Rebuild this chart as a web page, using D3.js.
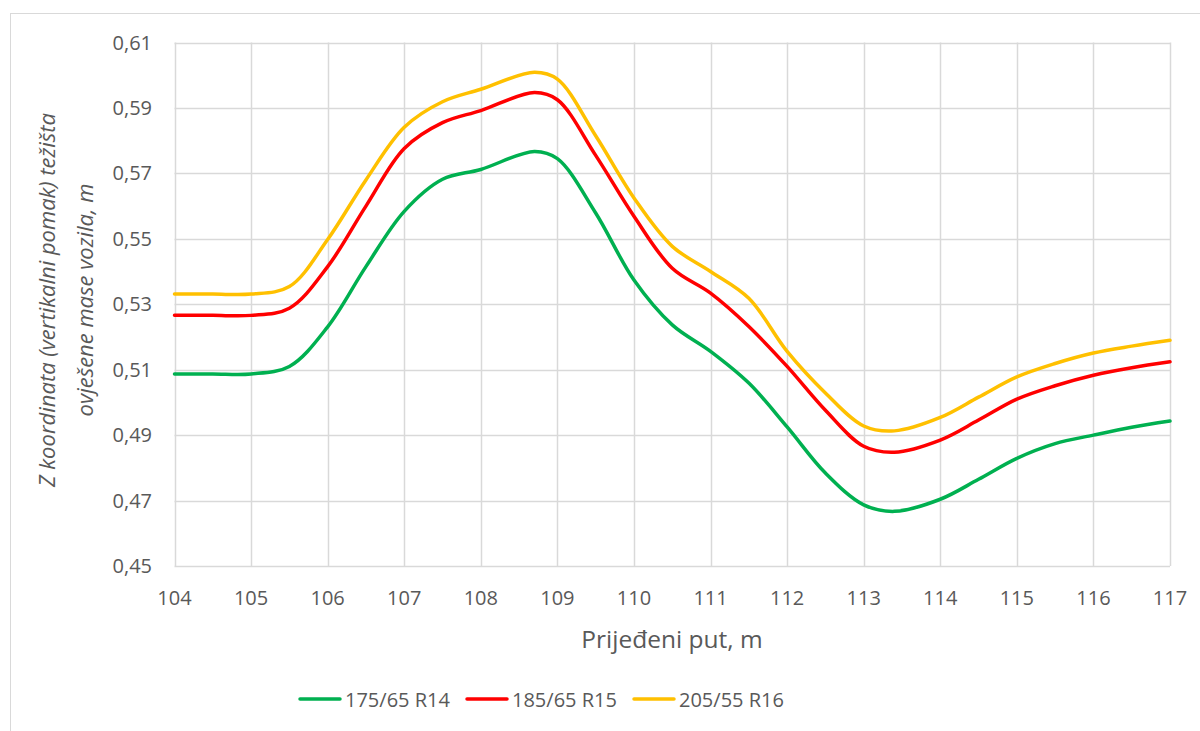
<!DOCTYPE html>
<html>
<head>
<meta charset="utf-8">
<script src="https://cdn.jsdelivr.net/npm/d3@7"></script>
<style>
  body { margin: 0; background: #fff; }
  svg text { font-family: "Open Sans", "Noto Sans", sans-serif; fill: #595959; }
</style>
</head>
<body>
<svg id="chart" width="1200" height="731"></svg>
<script>
// x positions (prijeđeni put, m)
var putX = [104, 104.5, 105, 105.5, 106, 106.5, 107, 107.5, 108, 108.7, 109, 109.5, 110, 110.5,
            111, 111.5, 112, 112.5, 113, 113.4, 114, 114.5, 115, 115.5, 116, 116.5, 117];

var r14 = [0.5087, 0.5087, 0.5087, 0.5110, 0.5231, 0.5415, 0.5584, 0.5682, 0.5712, 0.5767, 0.5745, 0.5579, 0.5374, 0.5237,
           0.5156, 0.5059, 0.4925, 0.4784, 0.4687, 0.4667, 0.4704, 0.4765, 0.4829, 0.4874, 0.4900, 0.4924, 0.4943];
var r15 = [0.5266, 0.5266, 0.5266, 0.5288, 0.5415, 0.5600, 0.5776, 0.5855, 0.5892, 0.5947, 0.5925, 0.5755, 0.5569, 0.5410,
           0.5334, 0.5232, 0.5110, 0.4976, 0.4866, 0.4848, 0.4885, 0.4946, 0.5010, 0.5051, 0.5083, 0.5106, 0.5124];
var r16 = [0.5331, 0.5331, 0.5331, 0.5354, 0.5498, 0.5680, 0.5841, 0.5919, 0.5957, 0.6009, 0.5988, 0.5815, 0.5625, 0.5477,
           0.5400, 0.5318, 0.5156, 0.5029, 0.4928, 0.4913, 0.4954, 0.5016, 0.5078, 0.5119, 0.5151, 0.5172, 0.5190];

var seriesNames = ["175/65 R14", "185/65 R15", "205/55 R16"];
var seriesColors = ["#00B050", "#FF0000", "#FFC000"];
var xTicks = [104, 105, 106, 107, 108, 109, 110, 111, 112, 113, 114, 115, 116, 117];
var yTicks = [0.45, 0.47, 0.49, 0.51, 0.53, 0.55, 0.57, 0.59, 0.61];

var svg = d3.select("#chart");

// outer chart border
svg.append("rect")
    .attr("x", 10.5).attr("y", 13.5)
    .attr("width", 1200).attr("height", 740)
    .attr("fill", "none").attr("stroke", "#D9D9D9");

var x = d3.scaleLinear().domain([104, 117]).range([174.5, 1170]);
var y = d3.scaleLinear().domain([0.45, 0.61]).range([566, 42.5]);

var loc = d3.formatLocale({ decimal: ",", thousands: ".", grouping: [3], currency: ["", ""] });
var fmt = loc.format(".2f");

// gridlines
svg.append("g").selectAll("line.h")
    .data(yTicks).enter().append("line")
    .attr("x1", x(104)).attr("x2", x(117))
    .attr("y1", function (d) { return Math.round(y(d)) + 0.5; })
    .attr("y2", function (d) { return Math.round(y(d)) + 0.5; })
    .attr("stroke", "#D9D9D9").attr("stroke-width", 1.5);

svg.append("g").selectAll("line.v")
    .data(xTicks).enter().append("line")
    .attr("y1", y(0.45)).attr("y2", y(0.61))
    .attr("x1", function (d) { return Math.round(x(d)) + 0.5; })
    .attr("x2", function (d) { return Math.round(x(d)) + 0.5; })
    .attr("stroke", "#D9D9D9").attr("stroke-width", 1.5);

// y tick labels
svg.append("g").selectAll("text")
    .data(yTicks).enter().append("text")
    .attr("x", 152)
    .attr("y", function (d) { return y(d) + 7; })
    .attr("text-anchor", "end")
    .style("font-size", "20px")
    .text(function (d) { return fmt(d); });

// x tick labels
svg.append("g").selectAll("text")
    .data(xTicks).enter().append("text")
    .attr("x", function (d) { return x(d); })
    .attr("y", 605)
    .attr("text-anchor", "middle")
    .style("font-size", "20px")
    .text(function (d) { return d; });

// axis titles
svg.append("text")
    .attr("x", 672).attr("y", 648)
    .attr("text-anchor", "middle")
    .style("font-size", "24.5px")
    .text("Prijeđeni put, m");

var yt = svg.append("text")
    .attr("transform", "translate(0,300) rotate(-90)")
    .attr("text-anchor", "middle")
    .style("font-size", "22px")
    .style("font-style", "italic");
yt.append("tspan").attr("x", 0).attr("y", 55).text("Z koordinata (vertikalni pomak) težišta");
yt.append("tspan").attr("x", 0).attr("y", 93).text("ovješene mase vozila, m");

// series
var line = d3.line()
    .x(function (d) { return x(d[0]); })
    .y(function (d) { return y(d[1]); })
    .curve(d3.curveCatmullRom.alpha(0.5));

[r14, r15, r16].forEach(function (vals, i) {
    svg.append("path")
        .datum(putX.map(function (p, j) { return [p, vals[j]]; }))
        .attr("d", line)
        .attr("fill", "none")
        .attr("stroke", seriesColors[i])
        .attr("stroke-width", 3.5)
        .attr("stroke-linecap", "round");
});

// legend
var legX = [300, 467, 634];
var leg = svg.append("g").selectAll("g")
    .data(seriesNames).enter().append("g")
    .attr("transform", function (d, i) { return "translate(" + legX[i] + ",699)"; });
leg.append("line")
    .attr("x1", 0).attr("x2", 40).attr("y1", 0).attr("y2", 0)
    .attr("stroke", function (d, i) { return seriesColors[i]; })
    .attr("stroke-width", 3.5).attr("stroke-linecap", "round");
leg.append("text")
    .attr("x", 45).attr("y", 7.5)
    .style("font-size", "20px")
    .text(function (d) { return d; });
</script>
</body>
</html>
